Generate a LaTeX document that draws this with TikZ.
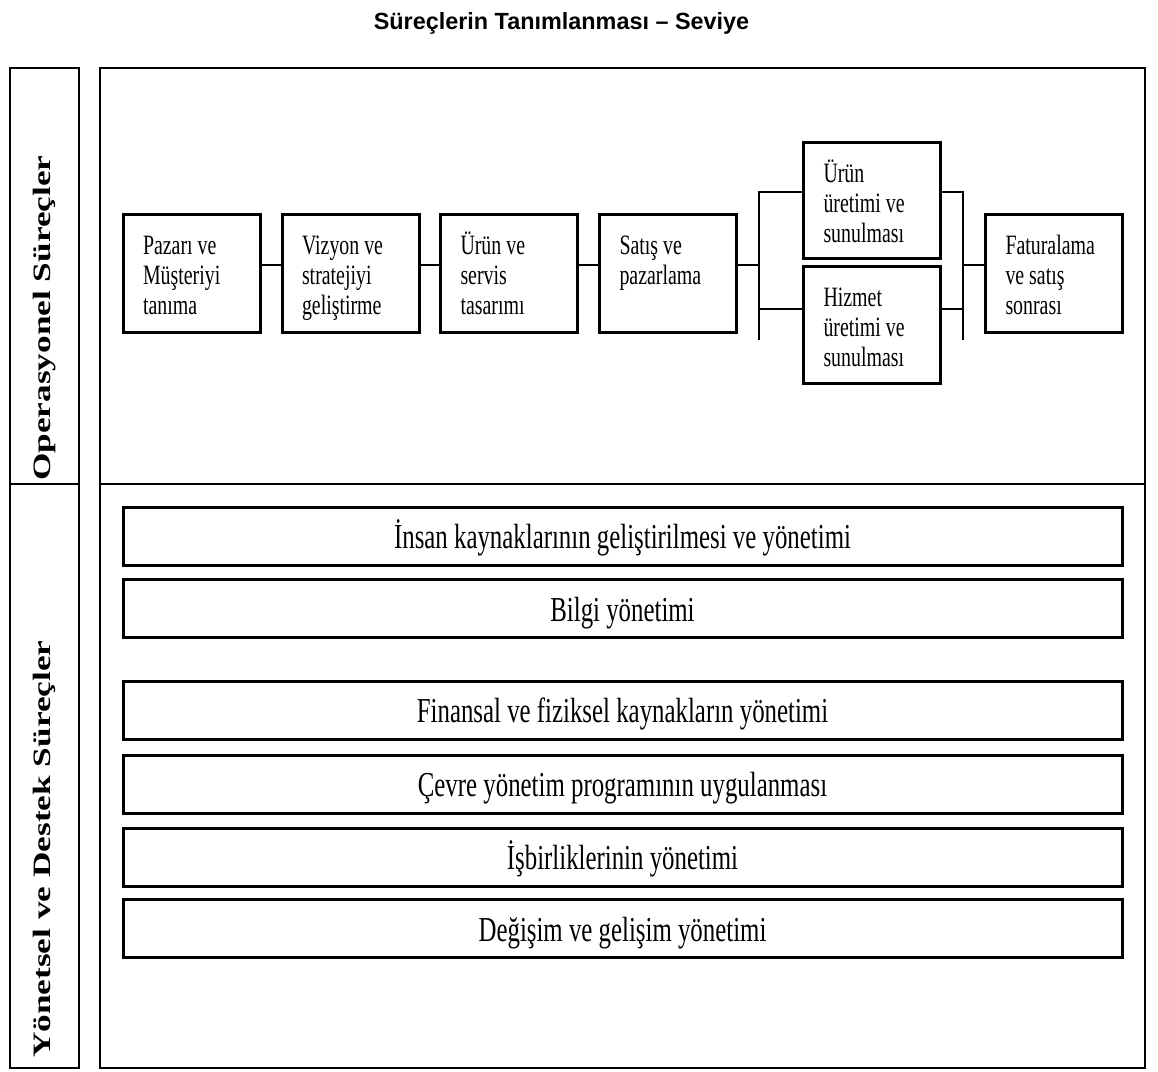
\documentclass[tikz,border=0pt]{standalone}
\usepackage{fontspec}
\setmainfont{Liberation Serif}
% narrow serif for the process boxes and bars, wide bold for the side labels
\newfontfamily\boxfont[FakeStretch=0.71]{Liberation Serif}
\newfontfamily\sidefont[FakeStretch=1.41]{Liberation Serif}
\newfontfamily\titlefont{Liberation Sans}
\newcommand{\proctext}[2]{\parbox[c][#1][t]{97pt}{\raggedright\rule{0pt}{40pt}#2}}
\begin{document}
\begin{tikzpicture}[x=1pt,y=-1pt,
  frame/.style={draw, line width=2.6pt},
  procbox/.style={draw, line width=3pt, inner sep=0pt, minimum width=137pt,
    minimum height=118pt, font=\boxfont\fontsize{28}{30}\selectfont},
  link/.style={draw, line width=2.2pt},
  bar/.style={draw, line width=3pt, inner sep=0pt, minimum width=999pt,
    minimum height=58pt, text height=30pt, text depth=5pt,
    font=\boxfont\fontsize{35}{40}\selectfont},
  side/.style={rotate=90, anchor=west, inner sep=0pt,
    font=\sidefont\bfseries\fontsize{25}{30}\selectfont},
]
\useasboundingbox (0,0) rectangle (1158,1071);

% title
\node[font=\titlefont\bfseries\fontsize{23.4}{28}\selectfont, anchor=base]
  (title) at (561.5,29) {Süreçlerin Tanımlanması – Seviye};

% outer frames: label column and content area, split into two levels
\draw[frame] (10,68) rectangle (79,1068);
\draw[frame] (10,484) -- (79,484);
\draw[frame] (100,68) rectangle (1145,1068);
\draw[frame] (100,484) -- (1145,484);

% side labels
\node[side] (oplabel) at (44.5,481) {Operasyonel Süreçler};
\node[side] (mglabel) at (44.5,1058) {Yönetsel ve Destek Süreçler};

% operational process chain
\node[procbox] (b1) at (191.5,273) {\proctext{118pt}{Pazarı ve\\Müşteriyi\\tanıma}};
\node[procbox] (b2) at (350.5,273) {\proctext{118pt}{Vizyon ve\\stratejiyi\\geliştirme}};
\node[procbox] (b3) at (509,273) {\proctext{118pt}{Ürün ve\\servis\\tasarımı}};
\node[procbox] (b4) at (668,273) {\proctext{118pt}{Satış ve\\pazarlama}};
\node[procbox, minimum height=116pt] (b5a) at (872,200) {\proctext{116pt}{Ürün\\üretimi ve\\sunulması}};
\node[procbox, minimum height=117pt] (b5b) at (872,324.5) {\proctext{117pt}{Hizmet\\üretimi ve\\sunulması}};
\node[procbox] (b6) at (1054,273) {\proctext{118pt}{Faturalama\\ve satış\\sonrası}};

% connector levels
\coordinate (rowline) at (0,265);
\coordinate (ytop) at (0,192);
\coordinate (ybot) at (0,309);
\coordinate (yend) at (0,340);
\coordinate (lj) at (759,0);
\coordinate (rj) at (963,0);

\draw[link] (b1.east |- rowline) -- (b2.west |- rowline);
\draw[link] (b2.east |- rowline) -- (b3.west |- rowline);
\draw[link] (b3.east |- rowline) -- (b4.west |- rowline);
\draw[link] (b4.east |- rowline) -- (lj |- rowline);
\draw[link] (b5a.west |- ytop) -| (lj |- yend);
\draw[link] (b5b.west |- ybot) -- (lj |- ybot);
\draw[link] (b5a.east |- ytop) -| (rj |- yend);
\draw[link] (b5b.east |- ybot) -- (rj |- ybot);
\draw[link] (rj |- rowline) -- (b6.west |- rowline);

% management and support processes
\node[bar] (s1) at (622.5,536) {İnsan kaynaklarının geliştirilmesi ve yönetimi};
\node[bar] (s2) at (622.5,608.5) {Bilgi yönetimi};
\node[bar] (s3) at (622.5,710) {Finansal ve fiziksel kaynakların yönetimi};
\node[bar] (s4) at (622.5,784) {Çevre yönetim programının uygulanması};
\node[bar] (s5) at (622.5,857) {İşbirliklerinin yönetimi};
\node[bar] (s6) at (622.5,928.5) {Değişim ve gelişim yönetimi};
\end{tikzpicture}
\end{document}
